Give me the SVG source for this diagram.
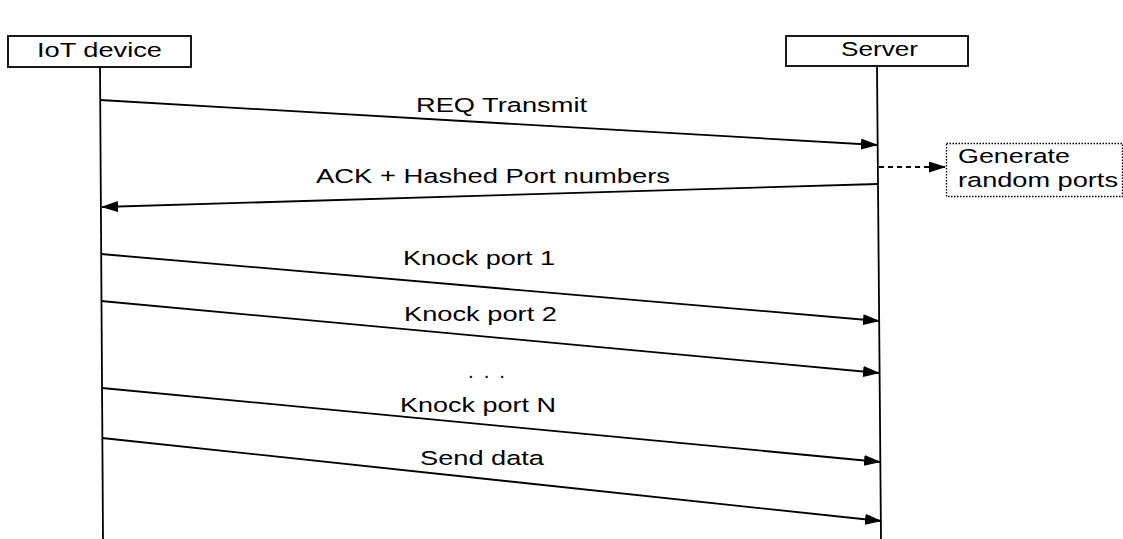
<svg xmlns="http://www.w3.org/2000/svg" width="1123" height="539" viewBox="0 0 1123 539">
<style>
.t{font-family:"Liberation Sans",Arial,sans-serif;font-size:20.5px;fill:#000}
.box{fill:#fff;stroke:#000;stroke-width:1.8}
.ln{stroke:#000;stroke-width:1.8;fill:none}
.msg{stroke:#000;stroke-width:1.8;fill:none;marker-end:url(#ah)}
</style>
<defs>
<marker id="ah" markerUnits="userSpaceOnUse" markerWidth="17" markerHeight="11" refX="16" refY="5.5" orient="auto">
<path d="M0,0 L17,5.5 L0,11 Z" fill="#000"/>
</marker>
</defs>
<g id="iot">
<rect class="box" x="8" y="36" width="183" height="31"/>
<text class="t" x="37" y="57" textLength="125" lengthAdjust="spacingAndGlyphs">IoT device</text>
<line class="ln" x1="100" y1="67" x2="103" y2="539"/>
</g>
<g id="server">
<rect class="box" x="786" y="36" width="182" height="30"/>
<text class="t" x="841" y="56" textLength="77" lengthAdjust="spacingAndGlyphs">Server</text>
<line class="ln" x1="877" y1="66" x2="881" y2="539"/>
</g>
<g id="gen">
<rect x="946.5" y="143.5" width="176" height="53" fill="#fff" stroke="#000" stroke-width="1.4" stroke-dasharray="1.5,1.5"/>
<text class="t" x="958" y="163" textLength="112" lengthAdjust="spacingAndGlyphs">Generate</text>
<text class="t" x="958" y="187" textLength="160" lengthAdjust="spacingAndGlyphs">random ports</text>
</g>
<g id="connectors">
<line class="msg" x1="100" y1="100" x2="877" y2="145"/>
<line class="msg" x1="878" y1="184" x2="102" y2="207"/>
<line class="msg" x1="879" y1="167" x2="945" y2="167" stroke-dasharray="5,4"/>
<line class="msg" x1="101" y1="254" x2="879" y2="321"/>
<line class="msg" x1="101" y1="301" x2="879" y2="373"/>
<line class="msg" x1="102" y1="388" x2="880" y2="462"/>
<line class="msg" x1="102" y1="438" x2="881" y2="521"/>
</g>
<g id="labels">
<text class="t" x="416" y="112" textLength="171" lengthAdjust="spacingAndGlyphs">REQ Transmit</text>
<text class="t" x="316" y="183" textLength="354" lengthAdjust="spacingAndGlyphs">ACK + Hashed Port numbers</text>
<text class="t" x="403" y="265" textLength="152" lengthAdjust="spacingAndGlyphs">Knock port 1</text>
<text class="t" x="404" y="321" textLength="153" lengthAdjust="spacingAndGlyphs">Knock port 2</text>
<text class="t" x="468" y="378" textLength="37" lengthAdjust="spacing">. . .</text>
<text class="t" x="400" y="412" textLength="156" lengthAdjust="spacingAndGlyphs">Knock port N</text>
<text class="t" x="420" y="465" textLength="124" lengthAdjust="spacingAndGlyphs">Send data</text>
</g>
</svg>
